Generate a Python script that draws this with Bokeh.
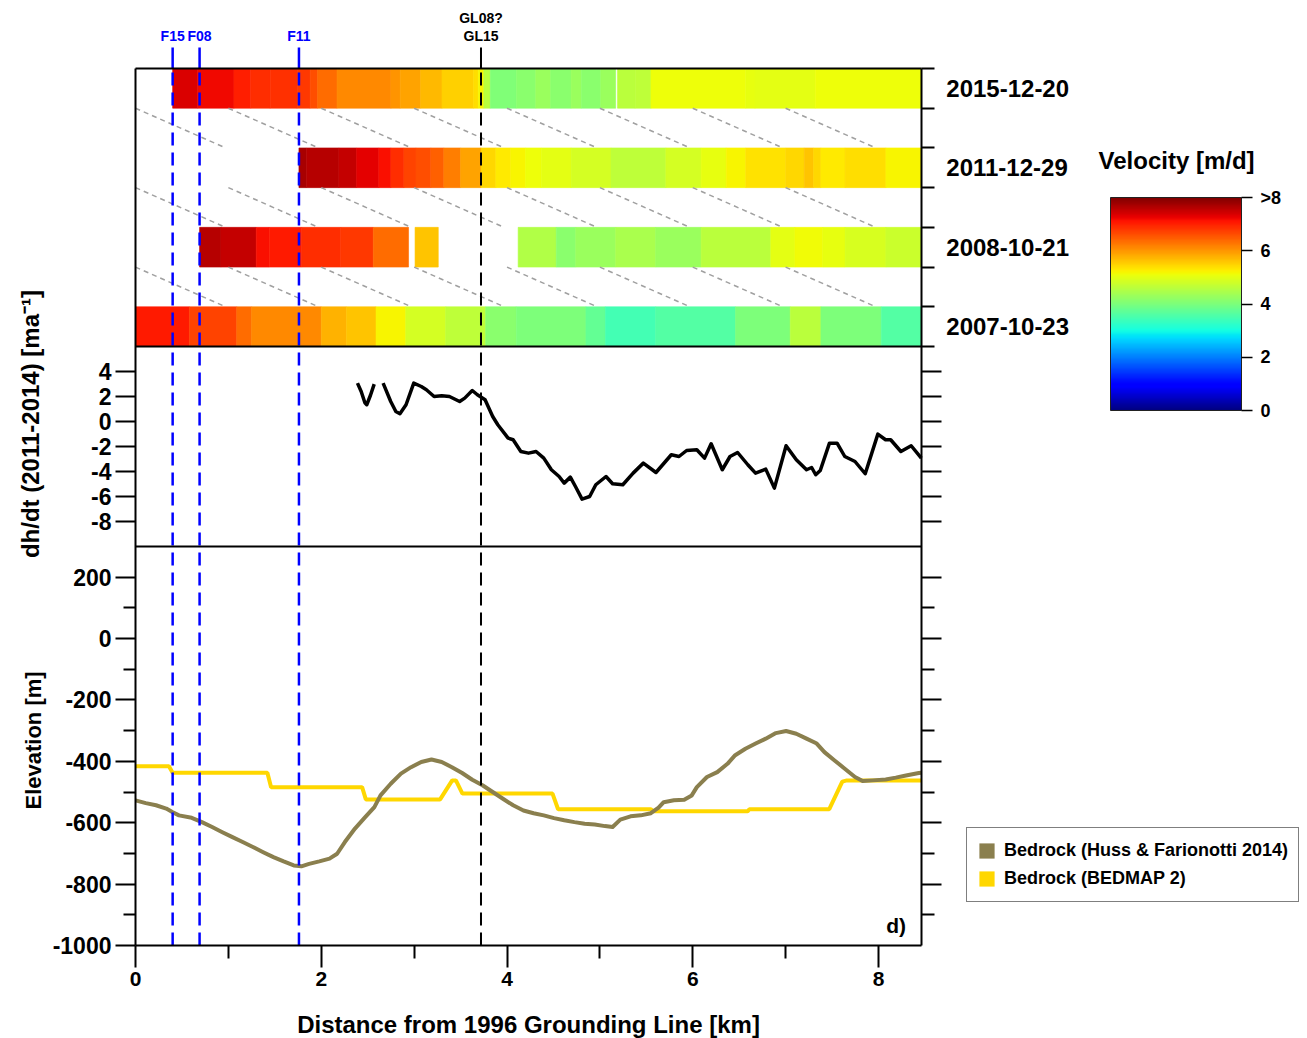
import numpy as np
from bokeh.plotting import figure
from bokeh.models import (Range1d, LinearAxis, FixedTicker, ColumnDataSource, Label,
                          ColorBar, LinearColorMapper, Legend, LegendItem)
from bokeh.embed import file_html
from bokeh.resources import INLINE

FONT = "Liberation Sans"

# ---------------- data ----------------
dates = ["2007-10-23", "2008-10-21", "2011-12-29", "2015-12-20"]
date_rows = [0, 1, 2, 3]

# velocity strips: segment edges [km] and velocity [m/d] per segment (None = no data)
v2015_edges = [0.40, 0.67, 1.06, 1.24, 1.45, 1.74, 1.88, 1.96, 2.17, 2.75, 2.85, 3.07, 3.30, 3.64,
               3.69, 3.75, 3.82, 4.10, 4.31, 4.47, 4.69, 4.80, 5.01, 5.17, 5.19, 5.38, 5.55, 6.57,
               6.67, 7.32, 8.463]
v2015_vals = [7.35, 7.2, 7.0, 6.9, 6.85, 6.8, 6.6, 6.35, 6.1, 6.0, 5.9, 5.7, 5.5, 5.4,
              5.2, 4.6, 4.05, 4.15, 4.3, 4.15, 4.3, 4.15, 4.3, None, 4.6, 4.65, 5.1,
              5.05, 5.0, 5.1]
v2011_edges = [1.76, 1.84, 2.19, 2.38, 2.62, 2.75, 2.89, 3.02, 3.18, 3.32, 3.50, 3.72, 3.88, 4.04,
               4.20, 4.37, 4.69, 5.12, 5.71, 6.09, 6.36, 6.57, 7.00, 7.20, 7.30, 7.38, 7.64, 8.08,
               8.463]
v2011_vals = [7.7, 7.6, 7.5, 7.3, 7.15, 6.9, 6.7, 6.6, 6.45, 6.2, 5.9, 5.45, 5.3, 5.2,
              5.1, 5.0, 4.85, 4.65, 4.85, 5.05, 5.2, 5.35, 5.45, 5.6, 5.45, 5.3, 5.4, 5.2]
v2008_edges = [0.69, 0.92, 1.30, 1.44, 1.79, 2.21, 2.56, 2.94, 3.01, 3.26, 4.12, 4.53, 4.74, 5.17,
               5.60, 6.09, 6.84, 7.10, 7.40, 7.64, 8.08, 8.463]
v2008_vals = [7.6, 7.5, 7.15, 7.05, 6.9, 6.8, 6.35, None, 5.6, None, 4.5, 4.15, 4.3,
              4.45, 4.3, 4.6, 5.0, 5.15, 5.05, 4.9, 4.75]
v2007_edges = [0.00, 0.58, 1.09, 1.25, 2.00, 2.27, 2.59, 2.91, 3.34, 3.77, 4.10, 4.85, 5.06, 5.60,
               6.46, 7.05, 7.38, 8.03, 8.463]
v2007_vals = [7.05, 6.7, 6.35, 6.1, 5.75, 5.6, 5.2, 4.85, 4.65, 4.15, 4.0, 3.75, 3.45,
              3.6, 4.0, 4.6, 4.0, 3.6]

# dh/dt (2011-2014) [m/a]
dhdt_x1 = [2.39, 2.43, 2.47, 2.49, 2.53, 2.57]
dhdt_y1 = [3.07, 2.4, 1.5, 1.34, 2.1, 2.99]
dhdt_x2 = [2.666, 2.748, 2.803, 2.847, 2.913, 2.996, 3.077, 3.132, 3.215, 3.297, 3.380, 3.490,
           3.545, 3.626, 3.681, 3.764, 3.846, 3.901, 4.012, 4.066, 4.149, 4.231, 4.313, 4.396,
           4.478, 4.561, 4.616, 4.682, 4.737, 4.808, 4.890, 4.956, 5.066, 5.137, 5.247, 5.358,
           5.468, 5.604, 5.769, 5.852, 5.934, 6.044, 6.127, 6.198, 6.318, 6.401, 6.483, 6.593,
           6.676, 6.786, 6.879, 7.005, 7.115, 7.225, 7.280, 7.324, 7.373, 7.472, 7.554, 7.637,
           7.747, 7.857, 7.993, 8.076, 8.131, 8.241, 8.352, 8.461]
dhdt_y2 = [3.07, 1.60, 0.80, 0.62, 1.34, 3.07, 2.80, 2.54, 2.00, 2.06, 2.00, 1.60,
           1.87, 2.48, 2.14, 1.74, 0.40, -0.26, -1.33, -1.46, -2.40, -2.53, -2.40, -2.93,
           -3.86, -4.40, -4.93, -4.45, -5.20, -6.21, -6.00, -5.06, -4.40, -4.98, -5.06, -4.13,
           -3.33, -4.08, -2.66, -2.80, -2.32, -2.26, -2.93, -1.78, -3.86, -2.80, -2.48, -3.46,
           -4.13, -3.81, -5.33, -1.94, -3.06, -3.86, -3.68, -4.26, -3.92, -1.73, -1.73, -2.80,
           -3.20, -4.18, -1.01, -1.46, -1.46, -2.40, -1.94, -2.93]

# bedrock elevation [m]
huss_x = [0.00, 0.111, 0.221, 0.331, 0.396, 0.468, 0.605, 0.715, 0.825, 0.935, 1.044, 1.154,
          1.264, 1.375, 1.485, 1.595, 1.704, 1.786, 1.869, 1.979, 2.089, 2.171, 2.254, 2.363,
          2.473, 2.572, 2.638, 2.748, 2.858, 2.967, 3.077, 3.187, 3.297, 3.407, 3.517, 3.626,
          3.736, 3.846, 3.956, 4.066, 4.177, 4.286, 4.396, 4.506, 4.616, 4.726, 4.836, 4.945,
          5.055, 5.137, 5.220, 5.330, 5.440, 5.549, 5.632, 5.687, 5.797, 5.908, 5.989, 6.044,
          6.153, 6.264, 6.374, 6.457, 6.567, 6.677, 6.786, 6.895, 7.005, 7.115, 7.225, 7.335,
          7.418, 7.527, 7.637, 7.747, 7.829, 7.939, 8.077, 8.186, 8.296, 8.434, 8.463]
huss_y = [-527, -536, -543, -554, -565, -576, -584, -598, -614, -631, -647, -663,
          -679, -696, -712, -726, -739, -742, -734, -726, -717, -701, -663, -619,
          -582, -549, -511, -473, -440, -419, -402, -394, -402, -419, -438, -460,
          -478, -500, -522, -543, -560, -569, -576, -585, -592, -598, -603, -606,
          -611, -614, -590, -579, -576, -569, -551, -533, -527, -525, -511, -484,
          -451, -435, -408, -380, -359, -342, -326, -308, -301, -310, -326, -342,
          -370, -397, -424, -451, -464, -462, -459, -453, -446, -438, -437]
bedmap_x = [0.00, 0.36, 0.40, 1.42, 1.46, 2.44, 2.48, 3.28, 3.41, 3.45, 3.52, 4.49, 4.55,
            5.55, 5.58, 6.59, 6.61, 7.47, 7.61, 7.66, 8.463]
bedmap_y = [-416, -416, -437, -437, -484, -484, -524, -524, -462, -462, -505, -505, -556,
            -556, -563, -563, -556, -556, -466, -462, -462]

# markers
front_x = [0.40, 0.69, 1.76]
front_names = ["F15", "F08", "F11"]
gl_x = 3.72
hatch_starts = [0, 1, 2, 3, 4, 5, 6, 7]

elev_major = [-1000, -800, -600, -400, -200, 0, 200]
elev_minor = [-900, -700, -500, -300, -100, 100]
dh_ticks = [4, 2, 0, -2, -4, -6, -8]
km_major = [0, 2, 4, 6, 8]
km_minor = [1, 3, 5, 7]
vel_ticks = [0, 2, 4, 6, 8]
vel_labels = ["0", "2", "4", "6", ">8"]

HUSS_COLOR = "#8a7f4e"
BEDMAP_COLOR = "#ffd700"

# ---------------- colour map (jet) ----------------
def jet(n=256):
    t = np.linspace(0, 1, n)
    r = np.interp(t, [0, 0.35, 0.66, 0.89, 1], [0, 0, 1, 1, 0.5])
    g = np.interp(t, [0, 0.125, 0.375, 0.64, 0.91, 1], [0, 0, 1, 1, 0, 0])
    b = np.interp(t, [0, 0.11, 0.34, 0.65, 1], [0.5, 1, 1, 0, 0])
    return ["#%02x%02x%02x" % (int(round(255 * a)), int(round(255 * c)), int(round(255 * d)))
            for a, c, d in zip(r, g, b)]

JET = jet()

# ---------------- panel geometry (data space) ----------------
X0, X1 = 0.0, 8.463             # distance axis of the plot area
E0, E1 = -1000.0, 1857.39       # elevation at bottom / top of plot area
DSEP = -10.0                    # dh/dt panel bottom
VSEP = -0.25                    # velocity panel bottom
VTOP = 3.25

# full canvas ranges (the frame fills the whole canvas)
X = Range1d(-1.45357, 12.6191)
E = Range1d(-1303.01, 2078.95)
DH = Range1d(-49.36, 33.68)
VEL = Range1d(-8.9622, 4.1061)


def to_elev(v, rng):
    return E.start + (v - rng.start) * (E.end - E.start) / (rng.end - rng.start)


def text(x, y, s, size, color="black", align="center", angle=0.0, rng="default"):
    p.add_layout(Label(x=x, y=y, text=s, y_range_name=rng, text_align=align,
                       text_baseline="middle", text_color=color, text_font=FONT,
                       text_font_style="bold", text_font_size=size, angle=angle))


p = figure(width=1307, height=1038, min_border=0, min_border_left=0, min_border_right=0,
           min_border_top=0, min_border_bottom=0, x_range=X, y_range=E,
           output_backend="svg", toolbar_location=None,
           x_axis_location=None, y_axis_location=None)
p.extra_y_ranges = {"dh": DH, "vel": VEL}
for g in p.grid:
    g.visible = False
p.outline_line_color = None
p.background_fill_color = "white"
p.border_fill_color = "white"

# velocity strips
mapper = LinearColorMapper(palette=JET, low=0, high=8, high_color=JET[-1])
L, R, B, T, V = [], [], [], [], []
for row, edges, vals in [(0, v2007_edges, v2007_vals), (1, v2008_edges, v2008_vals),
                         (2, v2011_edges, v2011_vals), (3, v2015_edges, v2015_vals)]:
    for i, v in enumerate(vals):
        if v is None:
            continue
        L.append(edges[i]); R.append(edges[i + 1])
        B.append(row - 0.25); T.append(row + 0.25); V.append(v)
src = ColumnDataSource(dict(left=L, right=R, bottom=B, top=T, v=V))
p.quad(left="left", right="right", bottom="bottom", top="top", source=src,
       fill_color={"field": "v", "transform": mapper},
       line_color={"field": "v", "transform": mapper}, line_width=0.6, y_range_name="vel")

# hatching in the gaps between acquisitions
for upper in [3, 2, 1]:
    p.segment(x0=hatch_starts, y0=[upper - 0.25] * len(hatch_starts),
              x1=[s + 0.97 for s in hatch_starts], y1=[upper - 0.75] * len(hatch_starts),
              line_color="#a0a0a0", line_width=1.5, line_dash="5 4", y_range_name="vel")

# dh/dt
p.line(dhdt_x1, dhdt_y1, line_color="black", line_width=3.5, y_range_name="dh",
       line_join="round")
p.line(dhdt_x2, dhdt_y2, line_color="black", line_width=3.5, y_range_name="dh",
       line_join="round")

# bedrock
p.line(bedmap_x, bedmap_y, line_color=BEDMAP_COLOR, line_width=4)
p.line(huss_x, huss_y, line_color=HUSS_COLOR, line_width=4, line_join="round")

# vertical markers (dashed in the plot, solid stub above it)
p.segment(x0=front_x, y0=[E0] * 3, x1=front_x, y1=[E1] * 3,
          line_color="#0000ff", line_width=2.5, line_dash="13 7")
p.segment(x0=[gl_x], y0=[E0], x1=[gl_x], y1=[E1],
          line_color="black", line_width=2, line_dash="13 7")
p.segment(x0=front_x, y0=[VTOP] * 3, x1=front_x, y1=[3.514] * 3, y_range_name="vel",
          line_color="#0000ff", line_width=2.5)
p.segment(x0=[gl_x], y0=[VTOP], x1=[gl_x], y1=[3.514], y_range_name="vel",
          line_color="black", line_width=2)
for xv, name in zip(front_x, front_names):
    text(xv, 3.665, name, "14px", color="#0000ff", rng="vel")
text(gl_x, 3.892, "GL08?", "14px", rng="vel")
text(gl_x, 3.665, "GL15", "14px", rng="vel")

# frame: top edge and panel separators
p.segment(x0=[X0], y0=[VTOP], x1=[X1], y1=[VTOP], y_range_name="vel",
          line_color="black", line_width=2)
p.segment(x0=[X0], y0=[VSEP], x1=[X1], y1=[VSEP], y_range_name="vel",
          line_color="black", line_width=2)
p.segment(x0=[X0], y0=[DSEP], x1=[X1], y1=[DSEP], y_range_name="dh",
          line_color="black", line_width=2)

# date labels (right of velocity panel)
for r, d in zip(date_rows, dates):
    text(8.73, r, d, "24px", align="left", rng="vel")

# axis titles
text(-1.131, -0.2, "dh/dt (2011-2014) [ma⁻¹]", "24px", angle=np.pi / 2, rng="dh")
text(-1.098, -332, "Elevation [m]", "22px", angle=np.pi / 2)
text((X0 + X1) / 2, -1257, "Distance from 1996 Grounding Line [km]", "24px")
text(8.19, -935, "d)", "21px")

# ---------------- axes (pinned to the plot-area edges) ----------------
dh_pos = [to_elev(d, DH) for d in dh_ticks]
edge_pos = []
for r in date_rows:
    edge_pos += [to_elev(r - 0.25, VEL), to_elev(r + 0.25, VEL)]

left_over = {t: str(t) for t in elev_major}
left_over.update({pos: str(d) for pos, d in zip(dh_pos, dh_ticks)})
ax_l = LinearAxis(ticker=FixedTicker(ticks=elev_major + dh_pos, minor_ticks=elev_minor),
                  major_label_overrides=left_over, fixed_location=X0, bounds=(E0, E1))
ax_r = LinearAxis(ticker=FixedTicker(ticks=elev_major[1:] + dh_pos,
                                     minor_ticks=elev_minor + edge_pos),
                  major_label_text_font_size="0px", fixed_location=X1, bounds=(E0, E1))
ax_b = LinearAxis(ticker=FixedTicker(ticks=km_major, minor_ticks=km_minor),
                  major_label_overrides={t: str(t) for t in km_major},
                  fixed_location=E0, bounds=(X0, X1))
for ax in (ax_l, ax_r, ax_b):
    ax.axis_line_color = "black"
    ax.axis_line_width = 2
    ax.major_tick_line_color = "black"
    ax.minor_tick_line_color = "black"
    ax.major_tick_line_width = 2
    ax.minor_tick_line_width = 2
    ax.major_tick_in = 0
    ax.minor_tick_in = 0
    ax.major_label_text_font = FONT
    ax.major_label_text_font_style = "bold"
    ax.major_label_text_color = "black"
ax_r.major_label_text_color = None
ax_l.major_tick_out = 20
ax_l.minor_tick_out = 12
ax_l.major_label_text_font_size = "23px"
ax_l.major_label_standoff = 4
ax_r.major_tick_out = 20
ax_r.minor_tick_out = 13
ax_b.major_tick_out = 22
ax_b.minor_tick_out = 13
ax_b.major_label_text_font_size = "21px"
ax_b.major_label_standoff = 5
p.add_layout(ax_l, "left")
p.add_layout(ax_r, "right")
p.add_layout(ax_b, "below")

# ---------------- colour bar ----------------
cb = ColorBar(color_mapper=LinearColorMapper(palette=JET, low=0, high=8),
              ticker=FixedTicker(ticks=vel_ticks),
              major_label_overrides={t: s for t, s in zip(vel_ticks, vel_labels)},
              orientation="vertical", width=131, height=213, location=(1110, 628),
              padding=0, margin=0, title=None,
              bar_line_color="#222222", bar_line_width=1,
              major_tick_line_color="black", major_tick_line_width=1.5,
              major_tick_in=0, major_tick_out=11, minor_tick_line_color=None,
              label_standoff=8, major_label_text_font=FONT, major_label_text_color="black",
              major_label_text_font_style="bold", major_label_text_font_size="18px",
              background_fill_color=None, border_line_color=None)
p.add_layout(cb)
text(11.209, 2.0917, "Velocity [m/d]", "24px", rng="vel")

# ---------------- legend ----------------
sw_h = p.quad(left=[np.nan], right=[np.nan], bottom=[np.nan], top=[np.nan],
              fill_color=HUSS_COLOR, line_color=None)
sw_b = p.quad(left=[np.nan], right=[np.nan], bottom=[np.nan], top=[np.nan],
              fill_color=BEDMAP_COLOR, line_color=None)
legend = Legend(items=[LegendItem(label="Bedrock (Huss & Farionotti 2014)", renderers=[sw_h]),
                       LegendItem(label="Bedrock (BEDMAP 2)", renderers=[sw_b])],
                location=(966, 136), glyph_width=19, glyph_height=19, label_standoff=8,
                padding=10, spacing=3, label_height=25, margin=0,
                label_text_font=FONT, label_text_font_style="bold", label_text_color="black",
                label_text_font_size="18px", border_line_color="black",
                border_line_width=1.5, background_fill_color="white",
                background_fill_alpha=1)
p.add_layout(legend)

open("out.html", "w").write(file_html(p, INLINE))
